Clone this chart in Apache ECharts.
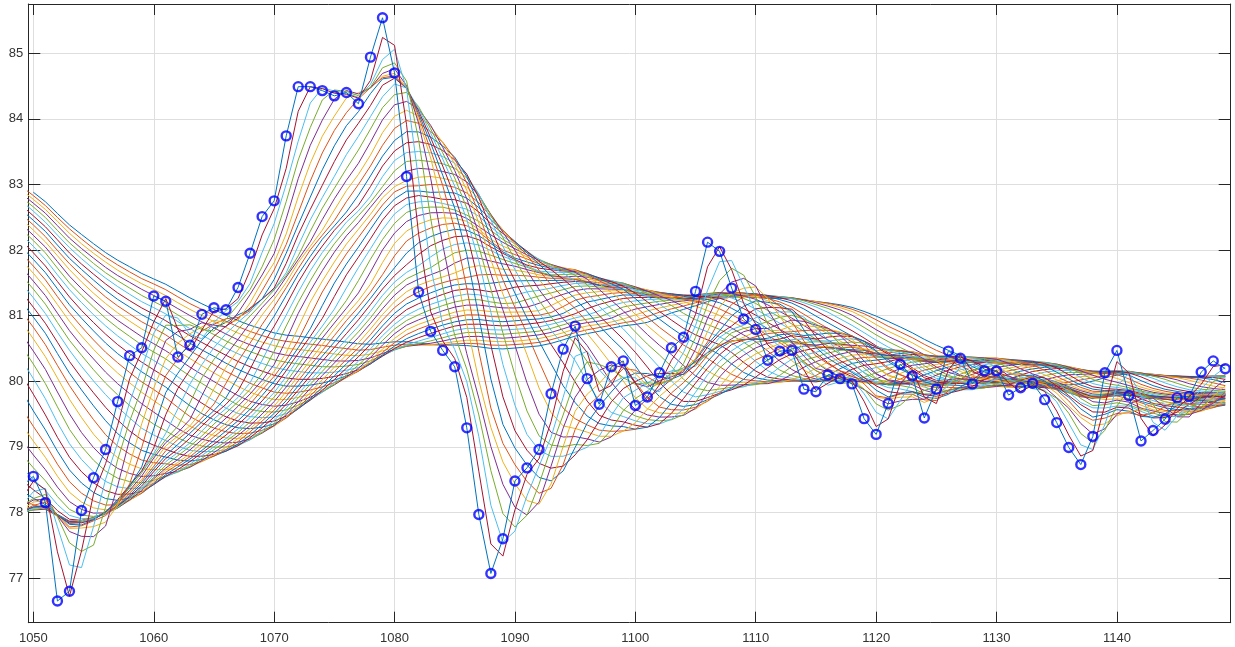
<!DOCTYPE html>
<html><head><meta charset="utf-8">
<script src="https://cdn.jsdelivr.net/npm/echarts@6/dist/echarts.min.js"></script>
<style>html,body{margin:0;padding:0;background:#fff}#c{width:1235px;height:647px}</style>
</head><body><div id="c"></div>
<script>
// Observed samples (blue circles), one per integer x starting at firstX
const firstX = 1050;
const values = [
  78.55,78.15,76.65,76.80,78.03,78.53,78.96,79.69,80.39,80.51,
  81.30,81.22,80.37,80.55,81.02,81.12,81.09,81.43,81.95,82.51,
  82.75,83.74,84.49,84.49,84.43,84.35,84.40,84.23,84.94,85.54,
  84.70,83.12,81.36,80.76,80.47,80.22,79.29,77.97,77.07,77.60,
  78.48,78.68,78.96,79.81,80.49,80.84,80.04,79.65,80.22,80.31,
  79.63,79.76,80.13,80.51,80.67,81.37,82.12,81.98,81.42,80.95,
  80.79,80.32,80.46,80.47,79.88,79.84,80.10,80.04,79.96,79.43,
  79.19,79.66,80.26,80.08,79.44,79.88,80.46,80.35,79.96,80.16,
  80.16,79.79,79.90,79.97,79.72,79.37,78.99,78.73,79.16,80.13,
  80.47,79.78,79.09,79.25,79.42,79.75,79.77,80.14,80.31,80.19
];
// Earlier samples (left of the visible window), estimated from where the
// moving-average curves enter the plot at the left edge
const earlierFirstX = 1001;
const earlierValues = [
  85.4,85.6,85.5,85.3,85.6,85.7,85.5,85.4,85.6,85.5,
  85.3,85.5,85.7,85.6,85.4,85.5,85.6,85.4,85.5,85.6,
  85.5,85.3,85.6,85.5,85.4,85.6,85.5,85.4,
  84.5,83.8,83.1,82.4,81.7,81.0,80.3,79.6,78.9,78.3,
  78.0,77.8,77.9,78.1,77.9,77.8,78.0,78.1,77.9,78.0,
  78.4
];
const maxWindow = 50;           // moving-average lengths 1..50
const xTickValues = [1050,1060,1070,1080,1090,1100,1110,1120,1130,1140];
const yTickValues = [77,78,79,80,81,82,83,84,85];
const palette = ['#0072BD','#D95319','#EDB120','#7E2F8E','#77AC30','#4DBEEE','#A2142F'];

const xMin = 1049.58, xMax = 1149.45, yMin = 76.32, yMax = 85.75;

const allX = [], allY = [];
earlierValues.forEach((v, i) => { allX.push(earlierFirstX + i); allY.push(v); });
values.forEach((v, i) => { allX.push(firstX + i); allY.push(v); });

function movingAverage(L) {
  const out = [];
  for (let i = L - 1; i < allY.length; i++) {
    if (allX[i] < firstX - 1) continue;
    let s = 0;
    for (let k = 0; k < L; k++) s += allY[i - k];
    out.push([allX[i], s / L]);
  }
  return out;
}

const series = [];
for (let L = maxWindow; L >= 1; L--) {
  series.push({
    type: 'line', data: movingAverage(L), showSymbol: false, symbol: 'none',
    clip: true, silent: true, animation: false,
    lineStyle: { color: palette[(maxWindow - L) % 7], width: 1 },
    z: 2
  });
}
series.push({
  type: 'scatter', data: values.map((v, i) => [firstX + i, v]),
  symbol: 'circle', symbolSize: 9, clip: true, animation: false, silent: true,
  itemStyle: { color: 'rgba(255,255,255,0)', borderColor: '#0000FF', borderWidth: 2.4 },
  z: 3
});

const axisColor = '#262626';
const lblFont = { color: '#333', fontSize: 13, fontFamily: 'Liberation Sans, Arial, sans-serif' };
function fmt(list) {
  return v => { const r = Math.round(v); return (Math.abs(v - r) < 1e-6 && list.includes(r)) ? String(r) : ''; };
}
const chart = echarts.init(document.getElementById('c'), null, { renderer: 'canvas' });
chart.setOption({
  backgroundColor: '#fff',
  animation: false,
  grid: { left: 28.3, right: 4.3, top: 4, bottom: 24.3, containLabel: false },
  xAxis: [
    { type: 'value', min: xMin, max: xMax, splitNumber: 10, minInterval: 10, maxInterval: 10,
      axisLine: { show: true, onZero: false, lineStyle: { color: axisColor, width: 1 } },
      axisTick: { show: true, inside: true, length: 11, lineStyle: { color: axisColor } },
      axisLabel: Object.assign({ margin: 9, formatter: fmt(xTickValues) }, lblFont),
      splitLine: { show: true, lineStyle: { color: '#dedede', width: 1 } } },
    { type: 'value', position: 'top', min: xMin, max: xMax, splitNumber: 10, minInterval: 10, maxInterval: 10,
      axisLine: { show: true, onZero: false, lineStyle: { color: axisColor, width: 1 } },
      axisTick: { show: true, inside: true, length: 11, lineStyle: { color: axisColor } },
      axisLabel: { show: false }, splitLine: { show: false } }
  ],
  yAxis: [
    { type: 'value', min: yMin, max: yMax, splitNumber: 9, minInterval: 1, maxInterval: 1,
      axisLine: { show: true, onZero: false, lineStyle: { color: axisColor, width: 1 } },
      axisTick: { show: true, inside: true, length: 12, lineStyle: { color: axisColor } },
      axisLabel: Object.assign({ margin: 5, formatter: fmt(yTickValues) }, lblFont),
      splitLine: { show: true, lineStyle: { color: '#dedede', width: 1 } } },
    { type: 'value', position: 'right', min: yMin, max: yMax, splitNumber: 9, minInterval: 1, maxInterval: 1,
      axisLine: { show: true, onZero: false, lineStyle: { color: axisColor, width: 1 } },
      axisTick: { show: true, inside: true, length: 12, lineStyle: { color: axisColor } },
      axisLabel: { show: false }, splitLine: { show: false } }
  ],
  series: series
});
</script></body></html>
